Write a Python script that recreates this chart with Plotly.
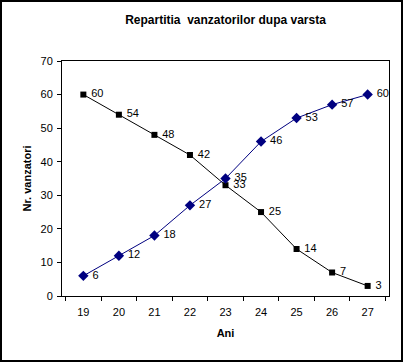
import plotly.graph_objects as go

years = ["19", "20", "21", "22", "23", "24", "25", "26", "27"]
series_blue = [6, 12, 18, 27, 35, 46, 53, 57, 60]
series_black = [60, 54, 48, 42, 33, 25, 14, 7, 3]

font = "Liberation Sans, Arial, sans-serif"

fig = go.Figure()
fig.add_trace(go.Scatter(
    x=years, y=series_black, mode="lines+markers+text",
    line=dict(color="black", width=1),
    marker=dict(symbol="square", size=6, color="black"),
    text=[" " + str(v) for v in series_black], textposition="middle right",
    textfont=dict(family=font, size=11, color="black"),
    cliponaxis=False, showlegend=False))
fig.add_trace(go.Scatter(
    x=years, y=series_blue, mode="lines+markers+text",
    line=dict(color="#000080", width=1),
    marker=dict(symbol="diamond", size=8, color="#000080"),
    text=[" " + str(v) for v in series_blue], textposition="middle right",
    textfont=dict(family=font, size=11, color="black"),
    cliponaxis=False, showlegend=False))

W, H = 327, 235  # plot area size in px
fig.update_layout(
    width=405, height=364,
    margin=dict(l=62, r=16, t=61, b=68, autoexpand=False),
    paper_bgcolor="white", plot_bgcolor="white",
    font=dict(family=font, size=11, color="black"),
    title=dict(text="<b>Repartitia  vanzatorilor dupa varsta</b>",
               x=0.5, xref="paper", y=1 - 20 / 364, yanchor="middle",
               font=dict(family=font, size=12)),
    xaxis=dict(type="category", tickson="boundaries", ticks="outside",
               ticklen=4, tickcolor="black", showline=True, linecolor="black",
               mirror=True, showgrid=False, zeroline=False, automargin=False,
               ticklabelstandoff=6,
               title=dict(text="<b>Ani</b>", font=dict(size=11), standoff=12)),
    yaxis=dict(range=[0, 70], dtick=10, ticks="outside", ticklen=4,
               tickcolor="black", showline=True, linecolor="black",
               mirror=True, showgrid=False, zeroline=False, automargin=False,
               ticklabelstandoff=2,
               title=dict(text="<b>Nr. vanzatori</b>", font=dict(size=11), standoff=6)),
    shapes=[dict(type="rect", xref="paper", yref="paper",
                 x0=-61 / W, x1=340 / W, y0=-65 / H, y1=295 / H,
                 line=dict(color="black", width=2))],
)

fig.write_html("out.html", config={"displayModeBar": False},
               post_script="document.body.style.margin='0';")
